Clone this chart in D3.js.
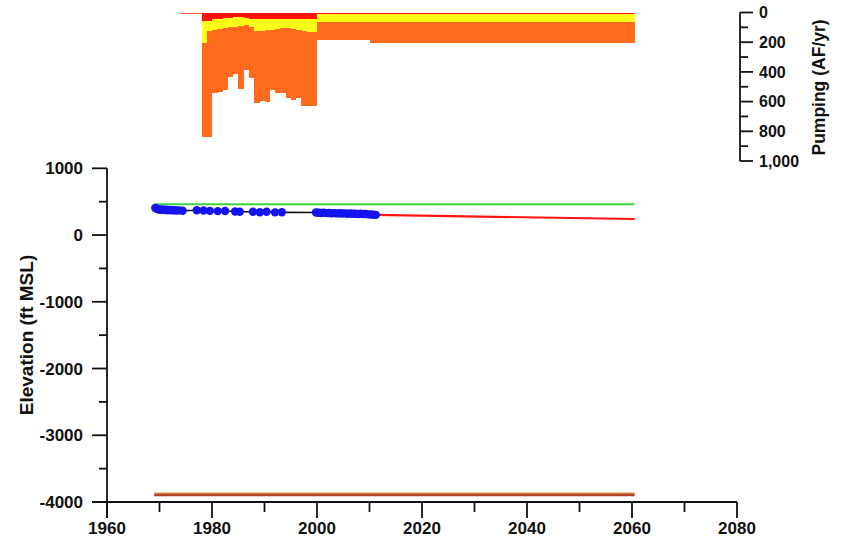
<!DOCTYPE html>
<html>
<head>
<meta charset="utf-8">
<script src="https://cdn.jsdelivr.net/npm/d3@7/dist/d3.min.js"></script>
<style>
  html, body { margin: 0; padding: 0; background: #ffffff; }
  svg { display: block; }
  text { font-family: "Liberation Sans", Arial, Helvetica, sans-serif; font-weight: bold; fill: #111; }
</style>
</head>
<body>
<svg id="chart" width="846" height="548"></svg>
<script>
// ---------------- DATA ----------------
// Pumping periods (start year of each period; each runs to the next start, last to pumpLastEnd)
const pumpStart = [1974, 1975, 1976, 1977, 1978, 1979, 1980, 1981, 1982, 1983, 1984, 1985, 1986, 1987,
                   1988, 1989, 1990, 1991, 1992, 1993, 1994, 1995, 1996, 1997, 1998, 1999, 2000, 2010];
const pumpLastEnd = 2060.5;
// Stacked pumping components (AF/yr), drawn downward from 0
const pumpRed    = [0, 0, 0, 0, 60, 60, 45, 45, 40, 35, 30, 30, 40, 45,
                    45, 45, 45, 45, 45, 45, 45, 45, 45, 45, 45, 45, 7, 7];
const pumpYellow = [0, 0, 0, 0, 145, 65, 70, 65, 65, 65, 65, 60, 45, 55,
                    80, 80, 70, 70, 65, 60, 60, 65, 70, 80, 85, 85, 55, 55];
const pumpOrange = [8, 8, 8, 8, 633, 713, 427, 423, 417, 332, 319, 427, 302, 341,
                    486, 471, 486, 407, 434, 439, 473, 479, 461, 505, 500, 500, 120, 141];

// Observed water levels (ft MSL)
const obsYears = [1969.2, 1969.5, 1969.8, 1970.1, 1970.4, 1970.7, 1971.0, 1971.3, 1971.6, 1972.0,
                  1972.4, 1972.8, 1973.3, 1973.8, 1974.4,
                  1977.1, 1978.4, 1979.6, 1981.1, 1982.5, 1984.4, 1985.3, 1987.8, 1989.1, 1990.4, 1992.0, 1993.3,
                  1999.8, 2000.3, 2000.8, 2001.3, 2001.8, 2002.3, 2002.8, 2003.3, 2003.8, 2004.3, 2004.8,
                  2005.3, 2005.8, 2006.3, 2006.8, 2007.3, 2007.8, 2008.3, 2008.8, 2009.3, 2009.8, 2010.3,
                  2010.8, 2011.2];
const obsElev  = [405, 395, 385, 380, 385, 378, 375, 380, 372, 375,
                  370, 372, 368, 370, 365,
                  372, 368, 362, 358, 360, 352, 350, 350, 342, 348, 340, 342,
                  338, 335, 330, 333, 328, 330, 326, 328, 324, 326, 322,
                  325, 320, 322, 318, 320, 316, 318, 313, 315, 310, 308,
                  305, 302];

// Projected water level
const projYears = [2011.2, 2060.5];
const projElev  = [302, 240];
// Land surface (green)
const landYears = [1969, 2060.5];
const landElev  = [460, 460];
// Bottom-of-aquifer lines
const baseYears = [1969, 2060.5];
const baseTop   = [-3874, -3874];
const baseBot   = [-3896, -3896];

// Ticks
const xMajor = [1960, 1980, 2000, 2020, 2040, 2060, 2080];
const xMinor = [1970, 1990, 2010, 2030, 2050, 2070];
const yMajor = [1000, 0, -1000, -2000, -3000, -4000];
const yMinor = [500, -500, -1500, -2500, -3500];
const pMajor = [0, 200, 400, 600, 800, 1000];
const pMinor = [100, 300, 500, 700, 900];

// ---------------- SCALES ----------------
const svg = d3.select("#chart");
const x = d3.scaleLinear().domain([1960, 2080]).range([107, 737]);
const y = d3.scaleLinear().domain([-4000, 1000]).range([502, 168.3]);
const yp = d3.scaleLinear().domain([0, 1000]).range([12.5, 161]);

// ---------------- PUMPING STACK ----------------
const pumpRows = pumpStart.map((s, i) => ({
  start: s,
  end: i < pumpStart.length - 1 ? pumpStart[i + 1] : pumpLastEnd,
  red: pumpRed[i], yellow: pumpYellow[i], orange: pumpOrange[i]
}));
const stack = d3.stack().keys(["red", "yellow", "orange"])(pumpRows);
const pColors = { red: "#ff1208", yellow: "#ffff1a", orange: "#ff6a1c" };
const gp = svg.append("g").attr("shape-rendering", "crispEdges");
stack.forEach(layer => {
  gp.selectAll(null).data(layer).enter().append("rect")
    .attr("x", d => x(d.data.start))
    .attr("width", d => x(d.data.end) - x(d.data.start) + 0.4)
    .attr("y", d => yp(d[0]))
    .attr("height", d => Math.max(0, yp(d[1]) - yp(d[0])))
    .attr("fill", pColors[layer.key]);
});

// Pumping axis (right)
const pa = svg.append("g").attr("stroke", "#111").attr("stroke-width", 1.8);
pa.append("line").attr("x1", 740).attr("x2", 740).attr("y1", yp(0)).attr("y2", yp(1000));
pMajor.forEach(v => pa.append("line").attr("x1", 740).attr("x2", 753).attr("y1", yp(v)).attr("y2", yp(v)));
pMinor.forEach(v => pa.append("line").attr("x1", 740).attr("x2", 748).attr("y1", yp(v)).attr("y2", yp(v)));
svg.append("g").selectAll("text").data(pMajor).enter().append("text")
  .attr("x", 759).attr("y", d => yp(d)).attr("dy", "0.36em")
  .attr("font-size", 16).text(d => d3.format(",")(d));
svg.append("text").attr("transform", "translate(825,87.5) rotate(-90)")
  .attr("text-anchor", "middle").attr("font-size", 17.5).text("Pumping (AF/yr)");

// ---------------- MAIN PLOT LINES ----------------
const line = d3.line().x(d => x(d[0])).y(d => y(d[1]));
const pairs = (xs, ys) => xs.map((v, i) => [v, ys[i]]);

svg.append("path").datum(pairs(baseYears, baseTop)).attr("d", line)
  .attr("fill", "none").attr("stroke", "#dc9a3a").attr("stroke-width", 2.2);
svg.append("path").datum(pairs(baseYears, baseBot)).attr("d", line)
  .attr("fill", "none").attr("stroke", "#b0442c").attr("stroke-width", 2.4);

svg.append("path").datum(pairs(landYears, landElev)).attr("d", line)
  .attr("fill", "none").attr("stroke", "#3fd23f").attr("stroke-width", 2);
svg.append("path").datum(pairs(projYears, projElev)).attr("d", line)
  .attr("fill", "none").attr("stroke", "#ff1414").attr("stroke-width", 2.2);
svg.append("path").datum(pairs(obsYears, obsElev)).attr("d", line)
  .attr("fill", "none").attr("stroke", "#111").attr("stroke-width", 1.6);
svg.append("g").selectAll("circle").data(pairs(obsYears, obsElev)).enter().append("circle")
  .attr("cx", d => x(d[0])).attr("cy", d => y(d[1])).attr("r", 4.2)
  .attr("fill", "#1414ee");

// ---------------- AXES ----------------
const ax = svg.append("g").attr("stroke", "#111").attr("stroke-width", 1.8);
// y axis line (extends down as 1960 tick)
ax.append("line").attr("x1", x(1960)).attr("x2", x(1960)).attr("y1", y(1000)).attr("y2", 518);
// x axis line (extends left as -4000 tick)
ax.append("line").attr("x1", 92).attr("x2", x(2080)).attr("y1", y(-4000)).attr("y2", y(-4000));
yMajor.forEach(v => ax.append("line").attr("x1", 92).attr("x2", x(1960)).attr("y1", y(v)).attr("y2", y(v)));
yMinor.forEach(v => ax.append("line").attr("x1", 99).attr("x2", x(1960)).attr("y1", y(v)).attr("y2", y(v)));
xMajor.forEach(v => ax.append("line").attr("x1", x(v)).attr("x2", x(v)).attr("y1", y(-4000)).attr("y2", 518));
xMinor.forEach(v => ax.append("line").attr("x1", x(v)).attr("x2", x(v)).attr("y1", y(-4000)).attr("y2", 512));

svg.append("g").selectAll("text").data(yMajor).enter().append("text")
  .attr("x", 83).attr("y", d => y(d)).attr("dy", "0.36em").attr("text-anchor", "end")
  .attr("font-size", 17).text(d => d);
svg.append("g").selectAll("text").data(xMajor).enter().append("text")
  .attr("x", d => x(d)).attr("y", 534).attr("text-anchor", "middle")
  .attr("font-size", 17).text(d => d);
svg.append("text").attr("transform", "translate(33,335) rotate(-90)")
  .attr("text-anchor", "middle").attr("font-size", 19).text("Elevation (ft MSL)");
</script>
</body>
</html>
